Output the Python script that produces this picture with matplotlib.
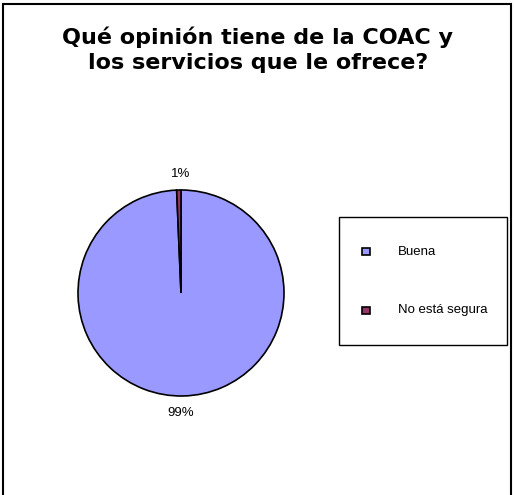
import matplotlib.pyplot as plt
from matplotlib.patches import Rectangle

plt.rcParams['font.family'] = ['Liberation Sans', 'DejaVu Sans']

labels = ["Buena", "No está segura"]
values = [148, 1]
colors = ["#9999FF", "#993366"]

W, H = 514, 495
fig = plt.figure(figsize=(W / 100, H / 100), dpi=100)

# outer frame (bottom edge runs off the image)
fig.patches.append(Rectangle((3 / W, -0.02), 508 / W, 1 - 4 / H + 0.02,
                             transform=fig.transFigure, fill=False,
                             edgecolor="black", linewidth=1.5))

fig.text(258 / W, 1 - 50 / H, "Qué opinión tiene de la COAC y\nlos servicios que le ofrece?",
         ha="center", va="center", fontsize=16, fontweight="bold",
         family="DejaVu Sans", linespacing=1.3)

cx, cy, r = 181, 293, 103
ax = fig.add_axes([(cx - r) / W, 1 - (cy + r) / H, 2 * r / W, 2 * r / H])
wedges, _ = ax.pie(values, colors=colors, startangle=90, counterclock=False,
                   wedgeprops=dict(edgecolor="black", linewidth=1.2))
ax.set_aspect("equal")
ax.set_xlim(-1, 1)
ax.set_ylim(-1, 1)
ax.set_axis_off()

total = sum(values)
pct = [f"{round(v / total * 100)}%" for v in values]
fig.text(cx / W, 1 - 174 / H, pct[1], ha="center", va="center", fontsize=9.5)
fig.text(cx / W, 1 - 413 / H, pct[0], ha="center", va="center", fontsize=9.5)

# legend box
fig.patches.append(Rectangle((339 / W, 1 - 345 / H), 168 / W, 128 / H,
                             transform=fig.transFigure, fill=False,
                             edgecolor="black", linewidth=1))
for i, (lab, col) in enumerate(zip(labels, colors)):
    y = 1 - (252 + i * 58) / H
    fig.patches.append(Rectangle((362 / W, y - 3.5 / H), 8 / W, 7 / H,
                                 transform=fig.transFigure, facecolor=col,
                                 edgecolor="black", linewidth=1.2))
    fig.text(398 / W, y, lab, ha="left", va="center", fontsize=9.5)

fig.savefig("out.png", dpi=100)
